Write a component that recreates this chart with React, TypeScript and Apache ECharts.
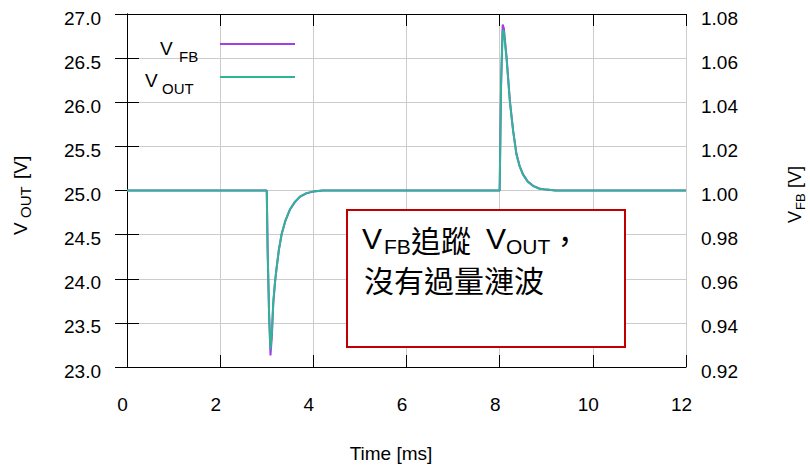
import React, { useEffect, useRef } from "react";
import * as echarts from "echarts";

// time axis in ms
const times = [0, 3.0, 3.02, 3.05, 3.08, 3.11, 3.14, 3.18, 3.21, 3.26, 3.32, 3.4, 3.5, 3.6, 3.71, 3.85, 4.0, 4.2,
  8.0, 8.03, 8.065, 8.09, 8.15, 8.22, 8.29, 8.36, 8.43, 8.5, 8.6, 8.72, 8.85, 9.0, 9.2, 12];
// V_OUT [V] (left axis)
const vOut = [25, 25, 24.3, 23.6, 23.2, 23.4, 23.74, 23.98, 24.12, 24.33, 24.51, 24.66, 24.79, 24.87, 24.93, 24.97, 24.99, 25.0,
  25.0, 26.2, 26.82, 26.8, 26.48, 26.0, 25.67, 25.41, 25.27, 25.18, 25.1, 25.05, 25.02, 25.01, 25.0, 25.0];
// V_FB [V] (right axis)
const vFb = [1.0, 1.0, 0.972, 0.944, 0.9252, 0.934, 0.9488, 0.9588, 0.9645, 0.973, 0.9802, 0.9862, 0.9914, 0.9946, 0.9971, 0.9987, 0.9995, 1.0,
  1.0, 1.048, 1.0752, 1.0735, 1.06, 1.0405, 1.027, 1.0166, 1.011, 1.0074, 1.0042, 1.0021, 1.0009, 1.0004, 1.0, 1.0];
const xTicks = { min: 0, max: 12, interval: 2 };
const leftTicks = { min: 23, max: 27, interval: 0.5 };
const rightTicks = { min: 0.92, max: 1.08, interval: 0.02 };

const PURPLE = "#a23ee6";
const GREEN = "#2fb596";
const LAT = "Liberation Sans, Arial, sans-serif";
const CJK = "Noto Sans CJK TC, sans-serif";

export default function App() {
  const ref = useRef<HTMLDivElement>(null);
  useEffect(() => {
    const chart = echarts.init(ref.current!, null, { renderer: "svg" });
    const tick = { show: true, inside: true, length: 12, lineStyle: { color: "#000", width: 1 } };
    const axisLine = { show: true, lineStyle: { color: "#000", width: 1 } };
    const split = { show: true, lineStyle: { color: "#cccccc", width: 1 } };
    const lbl = { color: "#000", fontSize: 19, fontFamily: LAT };
    const txt = (text: string, x: number, y: number, size: number, font = LAT, align = "left") => ({
      type: "text", x, y, z: 100,
      style: { text, fontSize: size, fontFamily: font, fill: "#000", align, verticalAlign: "middle" },
    });
    chart.setOption({
      animation: false,
      backgroundColor: "#fff",
      grid: { left: 127, right: 124, top: 14, bottom: 98 },
      xAxis: [
        { type: "value", position: "bottom", ...xTicks, axisLine, axisTick: tick, splitLine: split,
          axisLabel: { ...lbl, margin: 28, padding: [0, 9, 0, 0] } },
        { type: "value", position: "top", ...xTicks, axisLine, axisTick: tick, splitLine: { show: false },
          axisLabel: { show: false } },
      ],
      yAxis: [
        { type: "value", position: "left", ...leftTicks, axisLine, axisTick: tick, splitLine: split,
          axisLabel: { ...lbl, margin: 26, verticalAlign: "top", lineHeight: 8, formatter: (v: number) => v.toFixed(1) } },
        { type: "value", position: "right", ...rightTicks, axisLine, axisTick: tick, splitLine: { show: false },
          axisLabel: { ...lbl, margin: 15, verticalAlign: "top", lineHeight: 8, formatter: (v: number) => v.toFixed(2) } },
      ],
      series: [
        { name: "V_FB", type: "line", xAxisIndex: 0, yAxisIndex: 1, showSymbol: false, symbol: "none",
          lineStyle: { color: PURPLE, width: 2 }, data: times.map((t, i) => [t, vFb[i]]) },
        { name: "V_OUT", type: "line", xAxisIndex: 0, yAxisIndex: 0, showSymbol: false, symbol: "none",
          lineStyle: { color: GREEN, width: 2 }, data: times.map((t, i) => [t, vOut[i]]) },
      ],
      graphic: [
        // legend
        txt("V", 160, 48, 19),
        txt("FB", 179, 56, 15),
        { type: "line", z: 100, shape: { x1: 220, y1: 44, x2: 295, y2: 44 }, style: { stroke: PURPLE, lineWidth: 2 } },
        txt("V", 145, 80, 19),
        txt("OUT", 162, 88, 15),
        { type: "line", z: 100, shape: { x1: 220, y1: 77, x2: 295, y2: 77 }, style: { stroke: GREEN, lineWidth: 2 } },
        // annotation box
        { type: "rect", z: 100, shape: { x: 347, y: 210, width: 278, height: 137 },
          style: { fill: "#fff", stroke: "#c00000", lineWidth: 2 } },
        txt("V", 362, 238, 30),
        txt("FB", 384, 246, 21),
        txt("追蹤", 411, 239, 30, CJK),
        txt("V", 486, 238, 30),
        txt("OUT", 506, 246, 21),
        txt("，", 550, 239, 30, CJK),
        txt("沒有過量漣波", 364, 279, 30, CJK),
        // x axis title
        txt("Time [ms]", 391, 453, 19, LAT, "center"),
        // left axis title
        { type: "group", x: 20, y: 199, rotation: Math.PI / 2, z: 100, children: [
          txt("V", -36, 0, 19),
          txt("OUT", -19, 5, 15),
          txt("[V]", 20, 0, 19),
        ] },
        // right axis title
        { type: "group", x: 795, y: 195, rotation: Math.PI / 2, z: 100, children: [
          txt("V", -28, 0, 18),
          txt("FB", -15, 5, 13),
          txt("[V]", 7, 0, 18),
        ] },
      ],
    });
    return () => chart.dispose();
  }, []);
  return <div ref={ref} style={{ position: "absolute", left: 0, top: 0, width: 810, height: 465 }} />;
}
